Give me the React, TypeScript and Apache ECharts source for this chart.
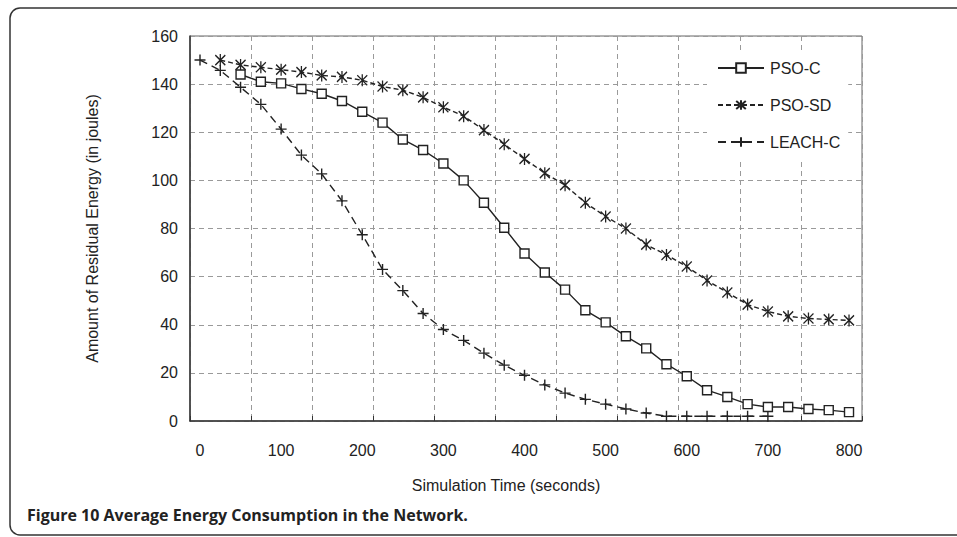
import React, { useEffect, useRef } from "react";
import * as echarts from "echarts";

const times = [0, 25, 50, 75, 100, 125, 150, 175, 200, 225, 250, 275, 300, 325, 350, 375, 400, 425, 450, 475, 500, 525, 550, 575, 600, 625, 650, 675, 700, 725, 750, 775, 800];
const psoC = [null, null, 144, 141, 140.3, 138, 136, 133, 128.5, 124, 117, 112.6, 107, 100, 90.7, 80.3, 69.6, 61.7, 54.6, 46, 41, 35.2, 30.2, 23.6, 18.6, 12.8, 10, 7, 5.8, 5.8, 5, 4.5, 3.7];
const psoSD = [null, 150, 148, 147, 146, 145, 143.6, 143, 141.6, 139, 137.5, 134.5, 130.4, 126.7, 120.9, 115, 108.9, 103, 98, 90.7, 85, 80, 73.3, 69, 64.2, 58.4, 53.4, 48.4, 45.5, 43.5, 42.6, 42.2, 41.8];
const leachC = [150, 145.7, 138.7, 131.6, 121.3, 110.5, 102.7, 91.5, 77.4, 63, 54.2, 44.7, 38, 33.5, 28.2, 23.2, 19, 15, 11.6, 9, 7, 5, 3.3, 2, 2, 2, 2, 2, 2, null, null, null, null];
const xTickLabels = [0, 100, 200, 300, 400, 500, 600, 700, 800];
const seriesNames = ["PSO-C", "PSO-SD", "LEACH-C"];

const toPairs = (vals: (number | null)[]) =>
  times.map((t, i) => [t, vals[i]]).filter((p) => p[1] !== null);

const FONT = "'Liberation Sans', Arial, sans-serif";
const INK = "#222";
const FS = 16;

export default function App() {
  const ref = useRef<HTMLDivElement>(null);
  useEffect(() => {
    if (!ref.current) return;
    const chart = echarts.init(ref.current, undefined, { renderer: "svg" });
    const markerStyle = { color: "#fff", borderColor: INK, borderWidth: 1.4 };
    const strokeMarker = { color: INK, borderColor: INK, borderWidth: 1.4 };
    chart.setOption({
      animation: false,
      backgroundColor: "#fff",
      textStyle: { fontFamily: FONT, color: INK },
      grid: {
        left: 190,
        right: 95,
        top: 36,
        bottom: 116,
        show: true,
        borderColor: "#666",
        borderWidth: 1,
      },
      legend: {
        orient: "vertical",
        left: 707,
        top: 50,
        padding: [10, 8, 10, 10],
        backgroundColor: "#fff",
        itemWidth: 46,
        itemHeight: 12,
        itemGap: 21,
        textStyle: { fontFamily: FONT, fontSize: FS, color: INK, padding: [0, 0, 0, 1] },
        data: seriesNames,
      },
      xAxis: [
        {
          type: "value",
          min: -12.33,
          max: 816,
          axisLine: { show: false },
          axisTick: { show: false },
          splitLine: { show: false },
          axisLabel: {
            customValues: xTickLabels,
            margin: 21,
            fontSize: FS,
            color: INK,
            fontFamily: FONT,
          },
          name: "Simulation Time (seconds)",
          nameLocation: "middle",
          nameGap: 56,
          nameTextStyle: { fontSize: FS, color: INK, fontFamily: FONT, padding: [0, 40, 0, 0] },
        },
        {
          type: "value",
          position: "bottom",
          min: 0,
          max: 11,
          interval: 1,
          axisLabel: { show: false },
          axisLine: { show: true, onZero: false, lineStyle: { color: "#333", width: 1.5 } },
          axisTick: { show: true, inside: true, length: 5, lineStyle: { color: "#333" } },
          splitLine: { show: true, lineStyle: { color: "#9a9a9a", type: [5, 4], width: 1 } },
        },
      ],
      yAxis: {
        type: "value",
        min: 0,
        max: 160,
        interval: 20,
        axisLine: { show: true, onZero: false, lineStyle: { color: "#333", width: 1.5 } },
        axisTick: { show: false },
        splitLine: { show: true, lineStyle: { color: "#9a9a9a", type: [5, 4], width: 1 } },
        axisLabel: { margin: 12, fontSize: FS, color: INK, fontFamily: FONT },
        name: "Amount of Residual Energy (in joules)",
        nameLocation: "middle",
        nameGap: 90,
        nameTextStyle: { fontSize: FS, color: INK, fontFamily: FONT },
      },
      series: [
        {
          name: seriesNames[0],
          type: "line",
          xAxisIndex: 0,
          data: toPairs(psoC),
          symbol: "rect",
          symbolSize: 9,
          lineStyle: { color: INK, width: 1.4, type: "solid" },
          itemStyle: markerStyle,
          emphasis: { disabled: true },
          z: 4,
        },
        {
          name: seriesNames[1],
          type: "line",
          xAxisIndex: 0,
          data: toPairs(psoSD),
          symbol: "path://M0,1L10,11M10,1L0,11M5,0L5,12",
          symbolSize: [10, 12],
          lineStyle: { color: INK, width: 1.4, type: [5, 3] },
          itemStyle: strokeMarker,
          emphasis: { disabled: true },
          z: 3,
        },
        {
          name: seriesNames[2],
          type: "line",
          xAxisIndex: 0,
          data: toPairs(leachC),
          symbol: "path://M5,0L5,10M0,5L10,5",
          symbolSize: 11,
          lineStyle: { color: INK, width: 1.4, type: [8, 5] },
          itemStyle: strokeMarker,
          emphasis: { disabled: true },
          z: 3,
        },
      ],
      graphic: [
        {
          type: "rect",
          shape: { x: 10, y: 8, width: 1000, height: 527, r: 10 },
          style: { fill: "none", stroke: "#333", lineWidth: 1.5 },
          silent: true,
        },
        {
          type: "text",
          left: 27,
          top: 507,
          style: {
            text: "Figure 10 Average Energy Consumption in the Network.",
            fontFamily: "'Open Sans', 'Noto Sans', sans-serif",
            fontWeight: "bold",
            fontSize: 16,
            fill: "#222",
          },
          silent: true,
        },
      ],
    });
    return () => chart.dispose();
  }, []);
  return (
    <div
      ref={ref}
      style={{ position: "fixed", left: 0, top: 0, width: 957, height: 537 }}
    />
  );
}
